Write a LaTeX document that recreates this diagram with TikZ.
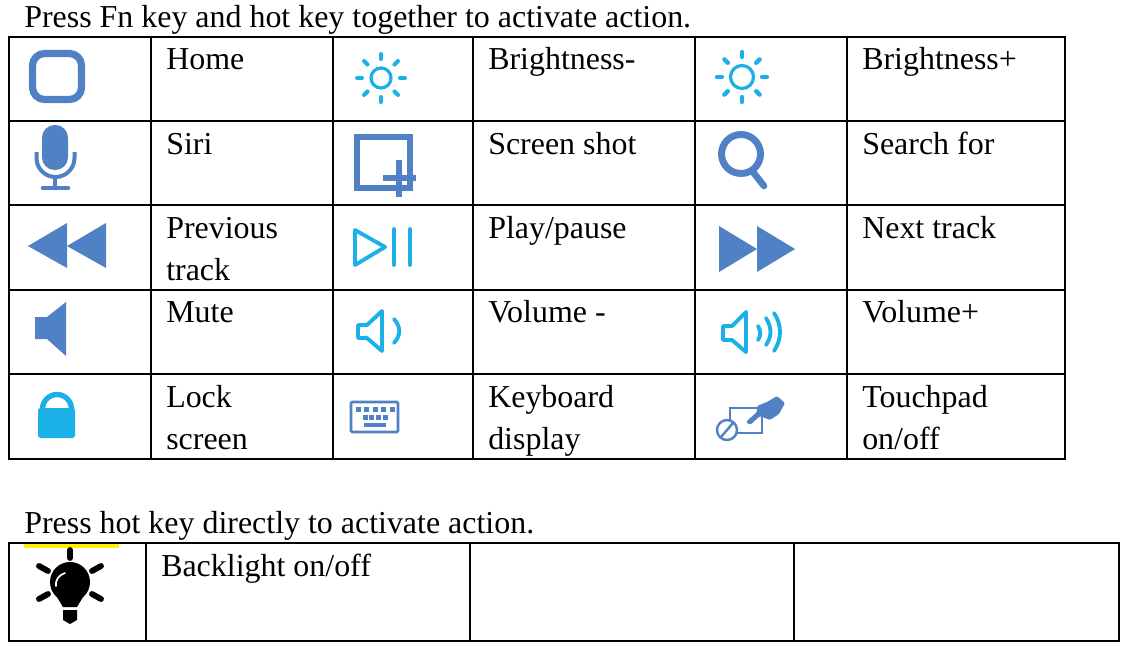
\documentclass[tikz,border=0pt]{standalone}
\usepackage{fontspec}
\setmainfont{Liberation Serif}
\usetikzlibrary{calc}
\definecolor{iconblue}{HTML}{4F81C4}
\definecolor{iconcyan}{HTML}{1CB0E8}
\tikzset{
  x=0.75pt, y=-0.75pt,
  rule/.style={line width=1.9pt, black, line cap=rect},
  celltext/.style={anchor=base west, inner sep=0pt, align=left, font=\fontsize{23.95}{31.5}\selectfont},
  headtext/.style={anchor=base west, inner sep=0pt, font=\fontsize{23.95}{28}\selectfont},
  bluestroke/.style={draw=iconblue, line width=3.4pt, fill=none},
  cyanstroke/.style={draw=iconcyan, line width=2.9pt, fill=none, line cap=round, line join=round},
  blackray/.style={draw=black, line width=4.4pt, line cap=round}
}
\newcommand{\sunicon}[5]{% x, y, circle radius, ray start, ray width
  \draw[cyanstroke, line width=2.4pt] (#1,#2) circle (#3);
  \foreach \ang in {0,45,...,315}
    \draw[cyanstroke, line width=#5] ($(#1,#2)+(\ang:#4)$) -- ($(#1,#2)+(\ang:#4+5)$);
}
\begin{document}
\begin{tikzpicture}
\useasboundingbox[fill=white] (0,0) rectangle (1126,646);
% headings
\node[headtext] (headfn) at (24,27) {Press Fn key and hot key together to activate action.};
\node[headtext] (headhot) at (24,533) {Press hot key directly to activate action.};
% yellow mark
\fill[yellow] (24,544) rectangle (119,548);
% first table
\foreach \gx in {9,151,333,473,695,847,1065}
  \draw[rule] (\gx,37) -- (\gx,459);
\foreach \gy in {37,121,205,290,374,459}
  \draw[rule] (9,\gy) -- (1065,\gy);
% second table
\foreach \gx in {9,146,470,794,1119}
  \draw[rule] (\gx,543) -- (\gx,641);
\foreach \gy in {543,641}
  \draw[rule] (9,\gy) -- (1119,\gy);
% labels
\node[celltext] (home) at (166,69) {Home};
\node[celltext] (brightdown) at (488,69) {Brightness-};
\node[celltext] (brightup) at (862,69) {Brightness+};
\node[celltext] (siri) at (166,154) {Siri};
\node[celltext] (shot) at (488,154) {Screen shot};
\node[celltext] (search) at (862,154) {Search for};
\node[celltext] (prev) at (166,238) {Previous};
\node[celltext] (prevb) at (166,280) {track};
\node[celltext] (play) at (488,238) {Play/pause};
\node[celltext] (next) at (862,238) {Next track};
\node[celltext] (mute) at (166,322) {Mute};
\node[celltext] (voldown) at (488,322) {Volume -};
\node[celltext] (volup) at (862,322) {Volume+};
\node[celltext] (lock) at (166,407) {Lock};
\node[celltext] (lockb) at (166,449) {screen};
\node[celltext] (keys) at (488,407) {Keyboard};
\node[celltext] (keysb) at (488,449) {display};
\node[celltext] (touch) at (862,407) {Touchpad};
\node[celltext] (touchb) at (862,449) {on/off};
\node[celltext] (backlight) at (161,576) {Backlight on/off};
% home
\draw[bluestroke, line width=5.4pt, rounded corners=9pt] (32.5,53.5) rectangle (81.5,99.5);
% brightness
\sunicon{381}{78}{10}{19}{3pt}
\sunicon{742}{77}{11.5}{20}{3.2pt}
% siri
\fill[iconblue, rounded corners=9.5pt] (42,125) rectangle (68,170);
\draw[bluestroke, line width=3pt] (36.5,152) -- (36.5,158) arc[start angle=180, end angle=0, radius=19] -- (74.5,152);
\draw[bluestroke, line width=3pt] (55,176) -- (55,188);
\draw[bluestroke, line width=3.4pt, line cap=round] (43,188) -- (68,188);
% screen shot
\draw[bluestroke, line width=4.4pt] (357,137) rectangle (410,188);
\draw[bluestroke, line width=3.8pt] (399,160) -- (399,197) (383,178) -- (416,178);
% search
\draw[bluestroke, line width=5.2pt] (741,154) circle (19.5);
\draw[bluestroke, line width=5pt, line cap=round] (753,172) -- (764,186);
% previous and next
\fill[iconblue] (28,246) -- (67,223) -- (67,268) -- cycle;
\fill[iconblue] (67,246) -- (106,223) -- (106,268) -- cycle;
\fill[iconblue] (757,249) -- (719,226) -- (719,272) -- cycle;
\fill[iconblue] (795,249) -- (757,226) -- (757,272) -- cycle;
% play pause
\draw[cyanstroke] (355,230) -- (355,265) -- (385,247) -- cycle;
\draw[cyanstroke] (394,229) -- (394,265) (410,229) -- (410,265);
% mute
\fill[iconblue] (35,317) -- (47,317) -- (66,302) -- (66,356) -- (47,339) -- (35,339) -- cycle;
% volume
\draw[cyanstroke] (358,325) -- (367,325) -- (382,311) -- (382,351) -- (367,338) -- (358,338) -- cycle;
\draw[cyanstroke] (394,319) .. controls (401,327) and (401,335) .. (394,343);
\draw[cyanstroke] (723,326) -- (732,326) -- (746,312) -- (746,352) -- (732,340) -- (723,340) -- cycle;
\draw[cyanstroke] (758,326) .. controls (761,331) and (761,336) .. (758,340);
\draw[cyanstroke] (766,318) .. controls (772,328) and (772,336) .. (766,345);
\draw[cyanstroke] (774,313) .. controls (782,325) and (782,339) .. (774,351);
% lock
\fill[iconcyan, rounded corners=2pt] (38,408) rectangle (75,438);
\draw[iconcyan, line width=4pt] (42.5,412) -- (42.5,409) arc[start angle=180, end angle=360, radius=14.5] -- (71.5,412);
% keyboard
\draw[bluestroke, line width=2pt, rounded corners=1pt] (351,402) rectangle (398,432);
\foreach \kx in {358,366.5,375,383.5,392}
  \fill[iconblue] (\kx-2.5,407) rectangle (\kx+2.5,412);
\foreach \kx in {365,371.5,378,385}
  \fill[iconblue] (\kx-2.5,415) rectangle (\kx+2.5,420);
\fill[iconblue] (364,423) rectangle (386,427);
% touchpad
\draw[bluestroke, line width=1.6pt] (730,408) rectangle (762,433);
\draw[bluestroke, line width=1.8pt, fill=white] (727,430) circle (10);
\draw[bluestroke, line width=1.8pt] (721,437) -- (733,423);
\fill[iconblue, rounded corners=1pt] (746,422) -- (749,419) -- (757,412) -- (757,406) -- (767,402) -- (777,396) -- (785,403) -- (779,414) -- (770,420) -- (760,416) -- (750,425) -- cycle;
% backlight bulb
\draw[blackray] (70,550) -- (70,558);
\draw[blackray] (39,566) -- (48,571) (101,566) -- (92,571);
\draw[blackray] (39,599) -- (48,594) (101,599) -- (92,594);
\fill[black] (70,582) circle (20);
\fill[black] (54,592) -- (86,592) -- (77,607) -- (63,607) -- cycle;
\fill[black] (63,610) -- (77,610) -- (77,620) -- (70,624) -- (63,620) -- cycle;
\draw[white, line width=1.3pt, line cap=round] (56,586) .. controls (55,580) and (59,575) .. (65,573);
\end{tikzpicture}
\end{document}
